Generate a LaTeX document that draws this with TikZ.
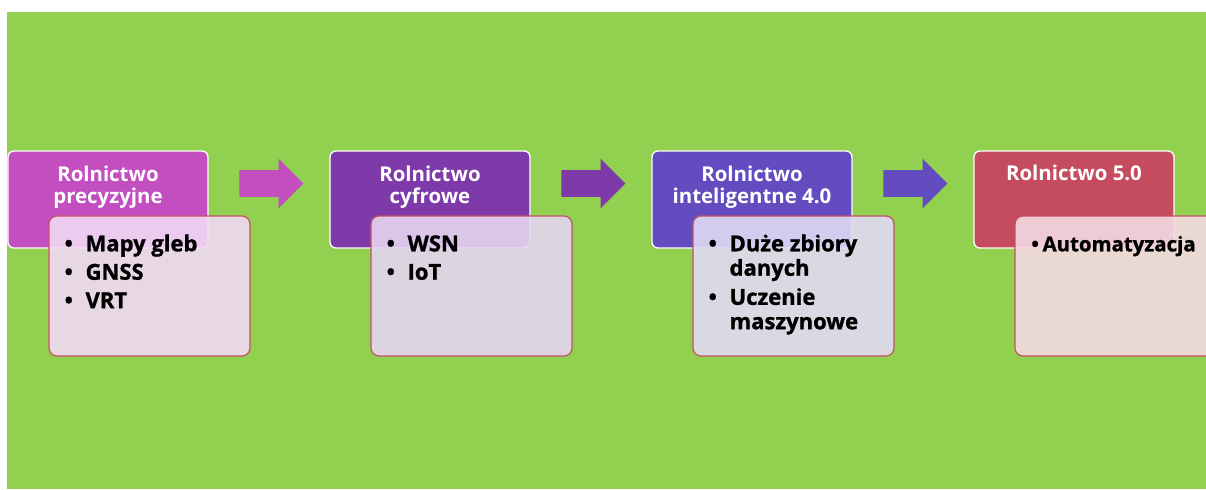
\documentclass[tikz,border=0pt]{standalone}
\usepackage{fontspec}
\setmainfont{Open Sans}
\newfontfamily\heavyfont{Open Sans}[BoldFeatures={FakeBold=1.2}]
\usetikzlibrary{positioning, shapes.arrows}

\definecolor{bggreen}{RGB}{146,208,80}
\definecolor{headA}{RGB}{195,78,192}
\definecolor{headB}{RGB}{127,58,170}
\definecolor{headC}{RGB}{98,76,192}
\definecolor{headD}{RGB}{196,76,94}
\definecolor{listA}{RGB}{242,217,243}
\definecolor{listB}{RGB}{229,214,241}
\definecolor{listC}{RGB}{225,218,243}
\definecolor{listD}{RGB}{244,218,226}
\definecolor{listline}{RGB}{200,80,100}

\tikzset{
  head/.style={draw=white, line width=1pt, rounded corners=4.5pt, minimum width=150pt, minimum height=72.75pt, inner sep=0pt, outer sep=0pt},
  title/.style={anchor=base, inner sep=0pt, text=white, font=\bfseries\fontsize{15.3}{16.3}\selectfont},
  listbox/.style={draw=listline, line width=0.9pt, rounded corners=6pt, minimum width=150.75pt, minimum height=105pt, inner sep=0pt, outer sep=0pt, anchor=north west, fill opacity=0.9},
  items/.style={anchor=base west, inner sep=0pt, font=\heavyfont\bfseries\fontsize{16.5}{18.3}\selectfont},
  stage/.style={single arrow, draw=none, inner sep=0pt, text height=19.5pt, text depth=0pt, minimum height=48pt, single arrow head extend=8.6pt, anchor=tail}
}

\begin{document}
\begin{tikzpicture}[x=0.75pt, y=-0.75pt]
	\useasboundingbox (0,0) rectangle (1206,489);
	\clip (0,0) rectangle (1206,489);
	\fill[bggreen] (7,12) rectangle (1206,489);

	% headers
	\node[head, fill=headA] (h1) at (108,199.5) {};
	\node[head, fill=headB, right=91.5pt of h1] (h2) {};
	\node[head, fill=headC, right=91.5pt of h2] (h3) {};
	\node[head, fill=headD, right=91.5pt of h3] (h4) {};

	\node[title] (t1) at ([yshift=-22.5pt]h1.north) {\begin{tabular}[t]{@{}c@{}}Rolnictwo\\precyzyjne\end{tabular}};
	\node[title] (t2) at ([yshift=-22.5pt]h2.north) {\begin{tabular}[t]{@{}c@{}}Rolnictwo\\cyfrowe\end{tabular}};
	\node[title] (t3) at ([yshift=-22.5pt]h3.north) {\begin{tabular}[t]{@{}c@{}}Rolnictwo\\inteligentne 4.0\end{tabular}};
	\node[title] (t4) at ([yshift=-21.75pt]h4.north) {Rolnictwo 5.0};

	% arrows
	\node[stage, fill=headA] (a1) at ([xshift=23.25pt, yshift=12pt]h1.east) {};
	\node[stage, fill=headB] (a2) at ([xshift=23.25pt, yshift=12pt]h2.east) {};
	\node[stage, fill=headC] (a3) at ([xshift=23.25pt, yshift=12pt]h3.east) {};

	% lists
	\node[listbox, fill=listA] (d1) at ([xshift=30.75pt, yshift=24pt]h1.south west) {};
	\node[listbox, fill=listB] (d2) at ([xshift=30.75pt, yshift=24pt]h2.south west) {};
	\node[listbox, fill=listC] (d3) at ([xshift=30.75pt, yshift=24pt]h3.south west) {};
	\node[listbox, fill=listD] (d4) at ([xshift=30.75pt, yshift=24pt]h4.south west) {};

	\node[items] (l1) at ([xshift=11.5pt, yshift=-26.5pt]d1.north west)
	  {\begin{tabular}[t]{@{}p{15.75pt}@{}l@{}} • & Mapy gleb\\[3pt] • & GNSS\\[3pt] • & VRT\end{tabular}};
	\node[items] (l2) at ([xshift=11.5pt, yshift=-26.5pt]d2.north west)
	  {\begin{tabular}[t]{@{}p{15.75pt}@{}l@{}} • & WSN\\[3pt] • & IoT\end{tabular}};
	\node[items] (l3) at ([xshift=11.5pt, yshift=-26.5pt]d3.north west)
	  {\begin{tabular}[t]{@{}p{15.75pt}@{}l@{}} • & Duże zbiory\\ & danych\\[3.5pt] • & Uczenie\\ & maszynowe\end{tabular}};
	\node[items, font=\heavyfont\bfseries\fontsize{15.3}{18.3}\selectfont] (l4) at ([xshift=12pt, yshift=-26.5pt]d4.north west)
	  {\begin{tabular}[t]{@{}p{8.5pt}@{}l@{}} • & Automatyzacja\end{tabular}};
\end{tikzpicture}
\end{document}
